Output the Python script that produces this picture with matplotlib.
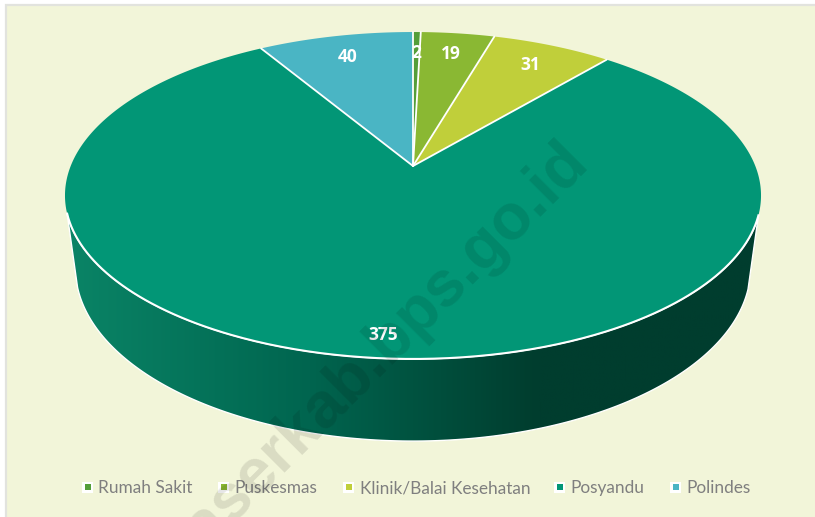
import numpy as np
import matplotlib
matplotlib.use('Agg')
import matplotlib.pyplot as plt
from matplotlib.colors import LinearSegmentedColormap
from matplotlib.patches import Polygon, Rectangle

labels = ['Rumah Sakit', 'Puskesmas', 'Klinik/Balai Kesehatan', 'Posyandu', 'Polindes']
values = [2, 19, 31, 375, 40]
colors = ['#549E39', '#8AB833', '#C0CF3A', '#029676', '#4AB5C4']
legend_x = [88, 224, 349, 560, 676]

bg = '#F2F5D9'
cx = 413
persp = 0.1804


# circle seen in perspective, u/v are on the unit circle
def top_disc(u, v):
    w = 1 + persp * v
    return cx + 342.3 * u / w, (166 - 128.2 * v) / w


def low_disc(u, v):
    w = 1 + persp * v
    return cx + 332 * u / w, (237 - 124.5 * v) / w


fig = plt.figure(figsize=(8.15, 5.17), dpi=100, facecolor='white')
ax = fig.add_axes([0, 0, 1, 1])
ax.set_xlim(0, 815)
ax.set_ylim(517, 0)
ax.axis('off')

ax.add_patch(Rectangle((6, 4.5), 815, 520, fc=bg, ec='#E2E3DE', lw=1.6, zorder=0))

# side wall, front part only
a = np.linspace(np.pi + 0.29, 2 * np.pi - 0.30, 300)
tx, ty = top_disc(np.cos(a), np.sin(a))
bx, by = low_disc(np.cos(a), np.sin(a))
wall_xy = np.r_[np.c_[tx, ty], np.c_[bx, by][::-1]]
wall = Polygon(wall_xy, closed=True, fc='none', ec='white', lw=1.0, zorder=2)
ax.add_patch(wall)
cmap = LinearSegmentedColormap.from_list('wall', [
    (0.0, '#0A8466'), (0.35, '#00654F'), (0.68, '#003D2E'), (1.0, '#003D2E')])
im = ax.imshow(np.linspace(0, 1, 400)[None, :], cmap=cmap, extent=(66, 760, 445, 190),
               aspect='auto', zorder=1.5)
im.set_clip_path(wall)
ax.set_xlim(0, 815)
ax.set_ylim(517, 0)

# top of the pie, clockwise from 12 o'clock
total = sum(values)
edges = np.r_[0, np.cumsum(values)] / total * 2 * np.pi
for i, val in enumerate(values):
    t = np.linspace(edges[i], edges[i + 1], max(int(val * 4), 12))
    x, y = top_disc(np.sin(t), np.cos(t))
    x0, y0 = top_disc(0.0, 0.0)
    ax.add_patch(Polygon(np.c_[np.r_[x0, x], np.r_[y0, y]], closed=True, fc=colors[i],
                         ec='none', zorder=3))

for e in edges[:-1]:
    x, y = top_disc(np.array([0, np.sin(e)]), np.array([0, np.cos(e)]))
    ax.plot(x, y, color='white', lw=1.3, zorder=4, solid_capstyle='round')

ax.plot(tx, ty, color='white', lw=1.5, zorder=4)

# value labels
for i, val in enumerate(values):
    mid = (edges[i] + edges[i + 1]) / 2
    r = 0.9 if val > 100 else 0.82
    x, y = top_disc(r * np.sin(mid), r * np.cos(mid))
    ax.text(x, y, str(val), color='white', fontsize=12.5, fontweight='bold', family='Open Sans',
            ha='center', va='center', zorder=6)

# legend
for lab, col, lx in zip(labels, colors, legend_x):
    ax.add_patch(Rectangle((lx - 6, 481.5), 11, 11, fc='white', ec='none', zorder=6))
    ax.add_patch(Rectangle((lx - 3, 484), 6, 6, fc=col, ec='none', zorder=7))
    ax.text(lx + 10.5, 493, lab, color='#7F7F7F', fontsize=12.4, family='Lato',
            ha='left', va='baseline', zorder=7)

# watermark
ax.text(590, 163, 'paserkab.bps.go.id', rotation=45, rotation_mode='anchor', color='#000000', alpha=0.1,
        fontsize=46, fontweight='bold', family='Liberation Sans', ha='right', va='baseline', zorder=8)

fig.savefig('out.png', dpi=100)
